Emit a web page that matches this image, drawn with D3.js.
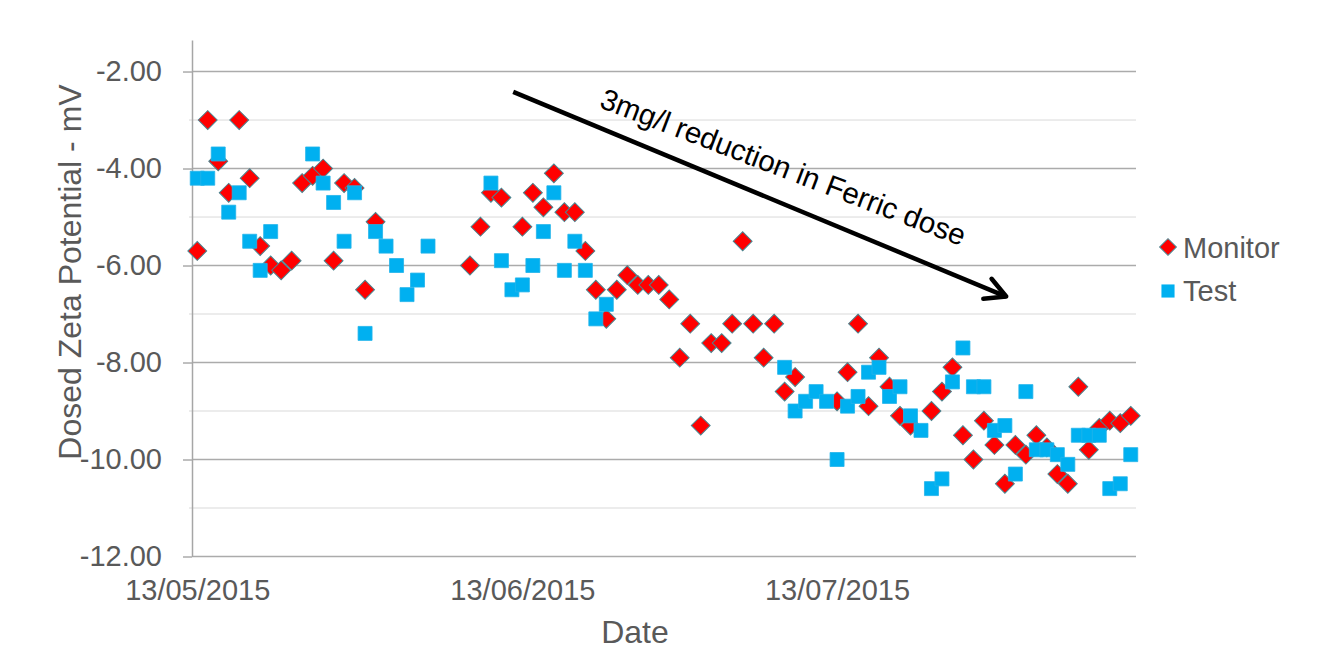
<!DOCTYPE html>
<html>
<head>
<meta charset="utf-8">
<script src="https://cdnjs.cloudflare.com/ajax/libs/d3/7.8.5/d3.min.js"></script>
<style>
  body { margin: 0; background: #fff; }
  text { font-family: "Liberation Sans", Arial, sans-serif; }
</style>
</head>
<body>
<div class="root"></div>
<script>
// readings per day, [date, zeta potential mV]
var monitor = [
  ['2015-05-13', -5.7], ['2015-05-14', -3.0], ['2015-05-15', -3.85], ['2015-05-16', -4.5],
  ['2015-05-17', -3.0], ['2015-05-18', -4.2], ['2015-05-19', -5.6], ['2015-05-20', -6.0],
  ['2015-05-21', -6.1], ['2015-05-22', -5.9], ['2015-05-23', -4.3], ['2015-05-24', -4.15],
  ['2015-05-25', -4.0], ['2015-05-26', -5.9], ['2015-05-27', -4.3], ['2015-05-28', -4.4],
  ['2015-05-29', -6.5], ['2015-05-30', -5.1],
  ['2015-06-08', -6.0], ['2015-06-09', -5.2], ['2015-06-10', -4.5], ['2015-06-11', -4.6],
  ['2015-06-13', -5.2], ['2015-06-14', -4.5], ['2015-06-15', -4.8], ['2015-06-16', -4.1],
  ['2015-06-17', -4.9], ['2015-06-18', -4.9], ['2015-06-19', -5.7], ['2015-06-20', -6.5],
  ['2015-06-21', -7.1], ['2015-06-22', -6.5], ['2015-06-23', -6.2], ['2015-06-24', -6.4],
  ['2015-06-25', -6.4], ['2015-06-26', -6.4], ['2015-06-27', -6.7], ['2015-06-28', -7.9],
  ['2015-06-29', -7.2], ['2015-06-30', -9.3], ['2015-07-01', -7.6], ['2015-07-02', -7.6],
  ['2015-07-03', -7.2], ['2015-07-04', -5.5], ['2015-07-05', -7.2], ['2015-07-06', -7.9],
  ['2015-07-07', -7.2], ['2015-07-08', -8.6], ['2015-07-09', -8.3],
  ['2015-07-13', -8.8], ['2015-07-14', -8.2], ['2015-07-15', -7.2], ['2015-07-16', -8.9],
  ['2015-07-17', -7.9], ['2015-07-18', -8.5], ['2015-07-19', -9.1], ['2015-07-20', -9.3],
  ['2015-07-22', -9.0], ['2015-07-23', -8.6], ['2015-07-24', -8.1], ['2015-07-25', -9.5],
  ['2015-07-26', -10.0], ['2015-07-27', -9.2], ['2015-07-28', -9.7], ['2015-07-29', -10.5],
  ['2015-07-30', -9.7], ['2015-07-31', -9.9], ['2015-08-01', -9.5], ['2015-08-02', -9.75],
  ['2015-08-03', -10.3], ['2015-08-04', -10.5], ['2015-08-05', -8.5], ['2015-08-06', -9.8],
  ['2015-08-07', -9.35], ['2015-08-08', -9.2], ['2015-08-09', -9.25], ['2015-08-10', -9.1]
];

var test = [
  ['2015-05-13', -4.2], ['2015-05-14', -4.2], ['2015-05-15', -3.7], ['2015-05-16', -4.9],
  ['2015-05-17', -4.5], ['2015-05-18', -5.5], ['2015-05-19', -6.1], ['2015-05-20', -5.3],
  ['2015-05-24', -3.7], ['2015-05-25', -4.3], ['2015-05-26', -4.7], ['2015-05-27', -5.5],
  ['2015-05-28', -4.5], ['2015-05-29', -7.4], ['2015-05-30', -5.3], ['2015-05-31', -5.6],
  ['2015-06-01', -6.0], ['2015-06-02', -6.6], ['2015-06-03', -6.3], ['2015-06-04', -5.6],
  ['2015-06-10', -4.3], ['2015-06-11', -5.9], ['2015-06-12', -6.5], ['2015-06-13', -6.4],
  ['2015-06-14', -6.0], ['2015-06-15', -5.3], ['2015-06-16', -4.5], ['2015-06-17', -6.1],
  ['2015-06-18', -5.5], ['2015-06-19', -6.1], ['2015-06-20', -7.1], ['2015-06-21', -6.8],
  ['2015-07-08', -8.1], ['2015-07-09', -9.0], ['2015-07-10', -8.8], ['2015-07-11', -8.6],
  ['2015-07-12', -8.8], ['2015-07-13', -10.0], ['2015-07-14', -8.9], ['2015-07-15', -8.7],
  ['2015-07-16', -8.2], ['2015-07-17', -8.1], ['2015-07-18', -8.7], ['2015-07-19', -8.5],
  ['2015-07-20', -9.1], ['2015-07-21', -9.4], ['2015-07-22', -10.6], ['2015-07-23', -10.4],
  ['2015-07-24', -8.4], ['2015-07-25', -7.7], ['2015-07-26', -8.5], ['2015-07-27', -8.5],
  ['2015-07-28', -9.4], ['2015-07-29', -9.3], ['2015-07-30', -10.3], ['2015-07-31', -8.6],
  ['2015-08-01', -9.8], ['2015-08-02', -9.8], ['2015-08-03', -9.9], ['2015-08-04', -10.1],
  ['2015-08-05', -9.5], ['2015-08-06', -9.5], ['2015-08-07', -9.5], ['2015-08-08', -10.6],
  ['2015-08-09', -10.5], ['2015-08-10', -9.9]
];

var yTicks = [-2, -4, -6, -8, -10, -12];
var yMinorTicks = [-3, -5, -7, -9, -11];
var xTicks = ['2015-05-13', '2015-06-13', '2015-07-13'];
var seriesNames = ['Monitor', 'Test'];

// arrow annotation, in data units
var arrowFrom = ['2015-06-12 03:00', -2.42];
var arrowTo = ['2015-07-29 03:00', -6.64];
var arrowLabel = '3mg/l reduction in Ferric dose';

function drawChart() {
  var w = 1317;
  var h = 672;
  var left = 192, right = 1136, top = 40, bottom = 556.5;
  var grey = '#595959';

  var parseDay = d3.timeParse('%Y-%m-%d');
  var parseTime = d3.timeParse('%Y-%m-%d %H:%M');

  var svg = d3.select('.root').append('svg')
    .attr('width', w)
    .attr('height', h);

  svg.append('rect')
    .attr('width', w)
    .attr('height', h)
    .attr('fill', '#fff');

  var x = d3.scaleTime()
    .domain([parseTime('2015-05-12 12:00'), parseTime('2015-08-10 12:00')])
    .range([left, right]);

  var y = d3.scaleLinear()
    .domain([-12, -1.35])
    .range([bottom, top]);

  // gridlines
  svg.append('g').selectAll('line')
    .data(yMinorTicks)
    .enter().append('line')
      .attr('x1', left - 3)
      .attr('x2', right)
      .attr('y1', function(d) { return y(d); })
      .attr('y2', function(d) { return y(d); })
      .attr('stroke', '#d9d9d9')
      .attr('stroke-width', 1);

  svg.append('g').selectAll('line')
    .data(yTicks)
    .enter().append('line')
      .attr('x1', left)
      .attr('x2', right)
      .attr('y1', function(d) { return y(d); })
      .attr('y2', function(d) { return y(d); })
      .attr('stroke', '#ababab')
      .attr('stroke-width', 1.5);

  // y axis
  var yAxis = svg.append('g')
    .attr('transform', 'translate(' + left + ',0)')
    .call(d3.axisLeft(y)
      .tickValues(yTicks)
      .tickSize(9)
      .tickSizeOuter(0)
      .tickPadding(21)
      .tickFormat(function(d) { return d.toFixed(2); }));
  yAxis.select('.domain').attr('stroke', '#a6a6a6').attr('stroke-width', 1.5);
  yAxis.selectAll('.tick line').attr('stroke', '#ababab').attr('stroke-width', 1.5);
  yAxis.selectAll('.tick text')
    .attr('fill', grey)
    .style('font-size', '29px')
    .style('font-family', '"Liberation Sans", Arial, sans-serif');

  // x axis labels
  var xAxis = svg.append('g')
    .attr('transform', 'translate(0,' + bottom + ')')
    .call(d3.axisBottom(x)
      .tickValues(xTicks.map(parseDay))
      .tickSize(0)
      .tickPadding(23)
      .tickFormat(d3.timeFormat('%d/%m/%Y')));
  xAxis.select('.domain').remove();
  xAxis.selectAll('.tick text')
    .attr('fill', grey)
    .style('font-size', '29px')
    .style('font-family', '"Liberation Sans", Arial, sans-serif');

  // axis titles
  svg.append('text')
    .attr('transform', 'translate(81,272) rotate(-90)')
    .attr('text-anchor', 'middle')
    .attr('fill', grey)
    .style('font-size', '32px')
    .text('Dosed Zeta Potential - mV');

  svg.append('text')
    .attr('x', 635)
    .attr('y', 643)
    .attr('text-anchor', 'middle')
    .attr('fill', grey)
    .style('font-size', '32px')
    .text('Date');

  // markers
  var diamond = d3.symbol(d3.symbolSquare, 178);
  var square = d3.symbol(d3.symbolSquare, 196);

  svg.append('g')
    .attr('class', 'monitor')
    .selectAll('path')
      .data(monitor)
      .enter().append('path')
        .attr('d', diamond)
        .attr('transform', function(d) {
          return 'translate(' + x(parseDay(d[0])) + ',' + y(d[1]) + ') rotate(45)';
        })
        .attr('fill', '#ff0000')
        .attr('stroke', '#4a8590')
        .attr('stroke-width', 1);

  svg.append('g')
    .attr('class', 'test')
    .selectAll('path')
      .data(test)
      .enter().append('path')
        .attr('d', square)
        .attr('transform', function(d) {
          return 'translate(' + x(parseDay(d[0])) + ',' + y(d[1]) + ')';
        })
        .attr('fill', '#00b0f0')
        .attr('stroke', '#22b4ea')
        .attr('stroke-width', 0.8);

  // annotation arrow
  var x0 = x(parseTime(arrowFrom[0])), y0 = y(arrowFrom[1]);
  var x1 = x(parseTime(arrowTo[0])), y1 = y(arrowTo[1]);
  var ang = Math.atan2(y1 - y0, x1 - x0);
  var head = 23, spread = 28 * Math.PI / 180;
  var back = ang + Math.PI;

  svg.append('line')
    .attr('x1', x0).attr('y1', y0)
    .attr('x2', x1).attr('y2', y1)
    .attr('stroke', '#000')
    .attr('stroke-width', 4.5);

  svg.append('path')
    .attr('d', 'M' + (x1 + head * Math.cos(back - spread)) + ',' + (y1 + head * Math.sin(back - spread)) +
      'L' + x1 + ',' + y1 +
      'L' + (x1 + head * Math.cos(back + spread)) + ',' + (y1 + head * Math.sin(back + spread)))
    .attr('fill', 'none')
    .attr('stroke', '#000')
    .attr('stroke-width', 4.5)
    .attr('stroke-linecap', 'round')
    .attr('stroke-linejoin', 'round');

  svg.append('text')
    .attr('transform', 'translate(' + (x0 + 85) + ',' + (y0 + 15) + ') rotate(21)')
    .attr('fill', '#000')
    .style('font-size', '29.5px')
    .text(arrowLabel);

  // legend
  var legend = svg.append('g')
    .attr('transform', 'translate(1168,247)');

  legend.append('path')
    .attr('d', d3.symbol(d3.symbolSquare, 140))
    .attr('transform', 'rotate(45)')
    .attr('fill', '#ff0000')
    .attr('stroke', '#4a8590')
    .attr('stroke-width', 1);

  legend.append('path')
    .attr('d', d3.symbol(d3.symbolSquare, 172))
    .attr('transform', 'translate(0,44)')
    .attr('fill', '#00b0f0');

  legend.selectAll('text')
    .data(seriesNames)
    .enter().append('text')
      .attr('x', 15)
      .attr('y', function(d, i) { return 10.5 + i * 43; })
      .attr('fill', grey)
      .style('font-size', '29px')
      .text(function(d) { return d; });
}

window.onload = function() {
  drawChart();
}
</script>
</body>
</html>
